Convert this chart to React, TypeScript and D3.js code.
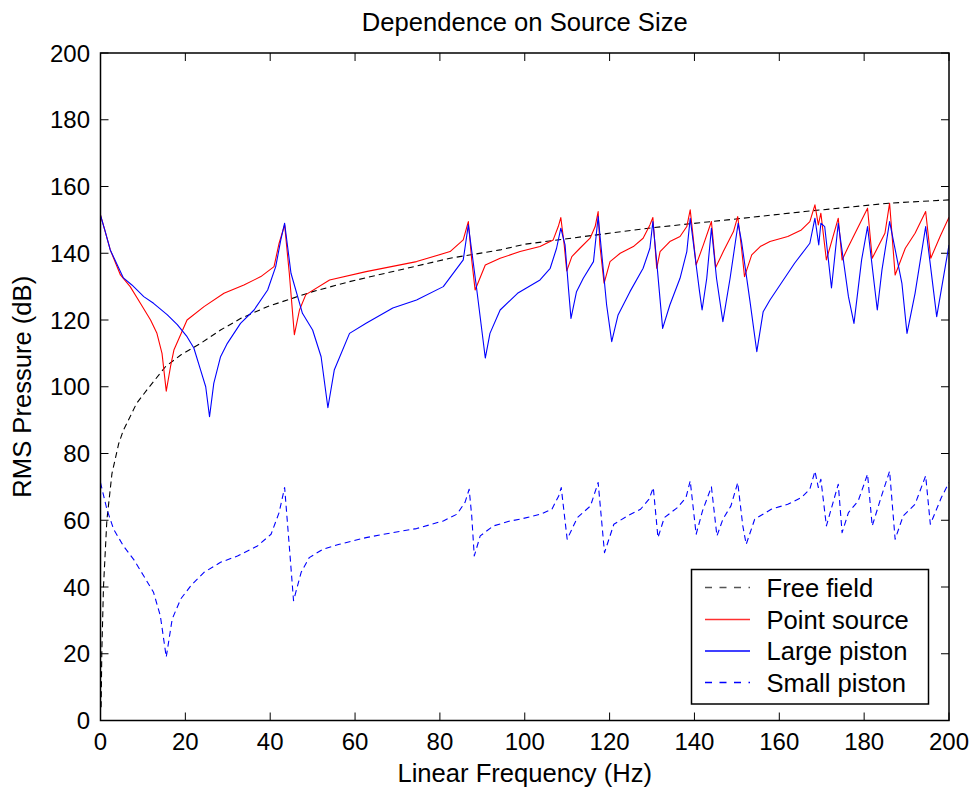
import React from "react";
import * as d3 from "d3";

const title = "Dependence on Source Size";
const xLabel = "Linear Frequency (Hz)";
const yLabel = "RMS Pressure (dB)";
const xTicks = [0, 20, 40, 60, 80, 100, 120, 140, 160, 180, 200];
const yTicks = [0, 20, 40, 60, 80, 100, 120, 140, 160, 180, 200];

const freeField: [number, number][] = [
  [0.15, 4], [0.3, 20], [0.7, 40], [1.5, 60], [2.7, 74], [4.3, 83], [5.4, 87], [6.2, 89],
  [8.5, 95], [10.9, 99], [15.3, 106], [18.9, 109.5], [23.6, 113], [28.3, 117], [33.1, 120.5],
  [39.3, 124], [45.7, 126.7], [50, 128.5], [58.7, 131.5], [70.5, 135], [82.4, 138.5],
  [94.2, 141], [100, 142.7], [113.9, 145], [129.7, 147.6], [147.8, 150], [166, 152.5],
  [185.8, 155], [200, 156],
];

const pointSource: [number, number][] = [
  [0, 151.4], [1, 147], [2.3, 141], [4.7, 133.5], [7, 130], [9.4, 125], [11.8, 120], [13.3, 116],
  [14.5, 110], [15.5, 98.7], [16.5, 106], [17.3, 111], [20.4, 120], [24.4, 124], [29.1, 128],
  [33.8, 130.5], [37.8, 133], [40.9, 136], [42.1, 143], [43.4, 148.5], [44.5, 134], [45.7, 115.6],
  [46.9, 123], [48.4, 127.6], [54, 132], [62.6, 134.5], [74.5, 137.5], [82.4, 140.5], [85.5, 144],
  [86.7, 149.5], [87.5, 138], [88.3, 129], [90.7, 136.5], [94.2, 138.5], [98.9, 140.5],
  [103.6, 142], [106.7, 144], [107.9, 148], [108.5, 150.7], [109.3, 142.5], [109.9, 134.7],
  [111.1, 139], [113, 141.5], [115.4, 144.5], [116.6, 148], [117.3, 152.5], [117.7, 142.5],
  [118.7, 131], [120.1, 137.5], [122.5, 140], [125.6, 142], [127.9, 144.5], [129.5, 148.5],
  [130.2, 150.7], [131.1, 135.5], [131.9, 140.5], [134.2, 143.5], [136.6, 145], [138.2, 148],
  [139, 153], [140.4, 136.5], [142.1, 142.5], [144, 149.5], [145, 135.7], [146.8, 140.5],
  [149.2, 146.5], [150.2, 151], [151.1, 141.5], [151.8, 133], [153.5, 139.5], [155.5, 142],
  [157.8, 143.5], [162, 145], [165.2, 147],
  [167.2, 149.5], [168.4, 154.5], [169.2, 148.5], [169.8, 152], [171.1, 138], [173.9, 150.5],
  [174.8, 138], [176.3, 142], [180.8, 153.5], [181.9, 138.5], [184.9, 146], [186, 155],
  [187.3, 133.5], [189.7, 141.5], [192, 146], [194.5, 152.5], [195.7, 138.5], [197.9, 145],
  [200, 150.8],
];

const largePiston: [number, number][] = [
  [0, 151.4], [1, 147], [2.3, 141], [5.4, 132.6], [7.4, 130.5], [10.2, 127], [12.5, 125],
  [15.7, 121.6], [18.1, 118.6], [20.4, 115], [22, 111.6], [23.6, 105], [24.8, 100], [25.7, 91],
  [26.7, 101], [28.3, 109], [29.9, 113], [33, 119], [36.2, 123], [39.4, 129], [41.3, 136],
  [42.5, 144], [43.4, 149], [44.9, 134], [47.6, 122], [50, 117], [52, 109], [53.6, 93.7],
  [55.1, 105], [58.7, 116], [62.6, 119], [68.9, 123.6], [74.5, 126], [80.8, 130], [85.5, 138],
  [86.7, 148.5], [88.7, 129], [90.7, 108.6], [91.8, 116], [94.2, 123], [98.3, 128],
  [103.6, 132], [106, 135.5], [107.5, 141.5], [108.5, 147.5], [109.5, 142.5], [110.3, 129.5],
  [110.9, 120.5], [112.2, 128.5], [113.8, 132.5], [116.2, 137.5], [117.3, 151], [118.1, 140.5],
  [119.3, 124.5], [120.5, 113.5], [122, 121.5], [124.8, 128.5], [127.9, 135.5], [129.5, 141.5],
  [130.2, 149.5], [131.1, 137.5], [132.5, 117.5], [134.2, 124.5], [136.6, 132.5], [138.2, 140.5],
  [139, 150.5], [140.2, 138.5], [141.2, 128.5], [141.8, 123], [142.9, 132.5], [144, 147.5],
  [145.2, 132.5], [146.7, 119.5], [148.4, 132.5], [150.3, 149], [151.1, 143.5], [153.1, 125.5],
  [154.7, 110.5], [156.2, 122.5], [157.8, 126], [163.6, 137], [167.2, 143],
  [168.4, 150.5], [169.3, 142.5], [169.8, 149], [170.7, 148], [172.3, 129.6], [173.9, 149],
  [176.3, 127], [177.6, 119], [179.4, 138], [180.8, 148], [183.1, 123], [184.2, 135], [186, 149.5],
  [188.9, 131], [190.1, 116], [192, 128], [194.5, 148], [197.1, 121], [200, 142.5],
];

const smallPiston: [number, number][] = [
  [0, 71.3], [1.5, 63.3], [3.1, 57.3], [5.4, 52.3], [7.8, 48.3], [10.2, 43.3], [12.5, 38.4],
  [14.1, 31.4], [15.5, 19], [16.9, 30.4], [18.9, 36.4], [21.3, 40.4], [24.4, 44.4], [28.3, 47.4],
  [32.3, 49.3], [37, 52.3], [40.2, 55.8], [42.1, 62.3], [43.4, 69.8], [44.5, 52.3], [45.5, 35.9],
  [47.3, 44.4], [49.2, 48.8], [52.4, 51.3], [56.3, 52.8], [62.6, 54.8], [68.9, 56.3], [74.5, 57.5],
  [80.8, 59.8], [84, 61.8], [85.9, 65.3], [86.9, 69.3], [87.5, 61.3], [88.1, 49.3], [89.5, 55.3],
  [92.6, 58.3], [96.6, 59.8], [98.9, 60.3], [103.7, 61.8], [106.4, 63.3], [108, 67.3],
  [108.6, 69.8], [110, 54.3], [112.4, 60.8], [115.5, 64.3], [117.3, 71.3], [118.8, 50.3],
  [121, 58.8], [124.2, 61.3], [127.3, 63.3], [129.3, 66.3], [130.3, 69.8], [131.4, 54.8],
  [132.9, 60.8], [136, 63.8], [138, 66.8], [139, 71.8], [140.4, 55.8], [141.9, 62.8], [144, 70],
  [145.3, 55.3], [146.7, 60.3], [148.6, 64.3], [150.2, 71.3], [151.4, 58.3], [152.2, 52.8],
  [154.2, 60.3], [158.1, 63.3], [162, 64.8], [165.2, 66.8], [167.2, 69.3], [168.4, 74.7],
  [169.2, 69.8], [169.8, 72.3], [171.1, 58.3], [173.9, 70.8], [174.8, 56.3], [176.3, 62.3],
  [178.6, 65.8], [180.8, 73.8], [181.9, 58.3], [184.1, 67.3], [186, 74.7], [187.3, 54.3],
  [189.2, 61.3], [192, 64.8], [194.5, 73.3], [195.6, 58.8], [198.2, 66.8], [200, 71.3],
];

const seriesNames = ["Free field", "Point source", "Large piston", "Small piston"];

const W = 976;
const H = 791;
const L = 100.5, R = 949, T = 53, B = 720.5;
const FONT = "'Liberation Sans', Arial, Helvetica, sans-serif";

export default function App() {
  const x = d3.scaleLinear().domain([0, 200]).range([L, R]);
  const y = d3.scaleLinear().domain([0, 200]).range([B, T]);
  const line = d3.line<[number, number]>().x((d) => x(d[0])).y((d) => y(d[1]));

  const series = [
    { name: seriesNames[0], data: freeField, color: "#000000", dash: "6,4", legendColor: "#555555" },
    { name: seriesNames[1], data: pointSource, color: "#ff0000", dash: "", legendColor: "#ff3030" },
    { name: seriesNames[2], data: largePiston, color: "#0000ff", dash: "", legendColor: "#0000ff" },
    { name: seriesNames[3], data: smallPiston, color: "#0000ff", dash: "6,4", legendColor: "#0000ff" },
  ];

  const tickLen = 8;
  const legX = 691.5, legY = 569.5, legW = 237, legH = 134.5;
  const rowY = [587.5, 619.5, 651, 682.5];

  return (
    <svg width={W} height={H} style={{ position: "absolute", left: 0, top: 0, background: "#fff" }} fontFamily={FONT}>
      <rect x={0} y={0} width={W} height={H} fill="#fff" />
      <defs>
        <clipPath id="plotclip">
          <rect x={L} y={T} width={R - L} height={B - T} />
        </clipPath>
      </defs>
      {xTicks.map((t) => (
        <g key={"xt" + t}>
          <line x1={x(t)} x2={x(t)} y1={B} y2={B - tickLen} stroke="#000" strokeWidth={1} />
          <line x1={x(t)} x2={x(t)} y1={T} y2={T + tickLen} stroke="#000" strokeWidth={1} />
          <text x={x(t)} y={750} fontSize={24} textAnchor="middle" fill="#000">{t}</text>
        </g>
      ))}
      {yTicks.map((t) => (
        <g key={"yt" + t}>
          <line x1={L} x2={L + tickLen} y1={y(t)} y2={y(t)} stroke="#000" strokeWidth={1} />
          <line x1={R} x2={R - tickLen} y1={y(t)} y2={y(t)} stroke="#000" strokeWidth={1} />
          <text x={90} y={y(t) + 8.5} fontSize={24} textAnchor="end" fill="#000">{t}</text>
        </g>
      ))}
      <g clipPath="url(#plotclip)">
        {series.map((s) => (
          <path key={s.name} d={line(s.data) || ""} fill="none" stroke={s.color} strokeWidth={1.1}
            strokeDasharray={s.dash || "none"} strokeLinejoin="round" />
        ))}
      </g>
      <rect x={L} y={T} width={R - L} height={B - T} fill="none" stroke="#000" strokeWidth={1.5} />
      <rect x={legX} y={legY} width={legW} height={legH} fill="#fff" stroke="#000" strokeWidth={1.5} />
      {series.map((s, i) => (
        <g key={"lg" + s.name}>
          <line x1={705} x2={750} y1={rowY[i]} y2={rowY[i]} stroke={s.legendColor} strokeWidth={1.3}
            strokeDasharray={s.dash ? "7,7.5" : "none"} />
          <text x={766.5} y={rowY[i] + 9} fontSize={25.6} fill="#000">{s.name}</text>
        </g>
      ))}
      <text x={(L + R) / 2} y={31} fontSize={25.6} textAnchor="middle" fill="#000">{title}</text>
      <text x={(L + R) / 2} y={782} fontSize={25.6} textAnchor="middle" fill="#000">{xLabel}</text>
      <text transform={`translate(31, ${(T + B) / 2}) rotate(-90)`} fontSize={25.6} textAnchor="middle" fill="#000">{yLabel}</text>
    </svg>
  );
}
